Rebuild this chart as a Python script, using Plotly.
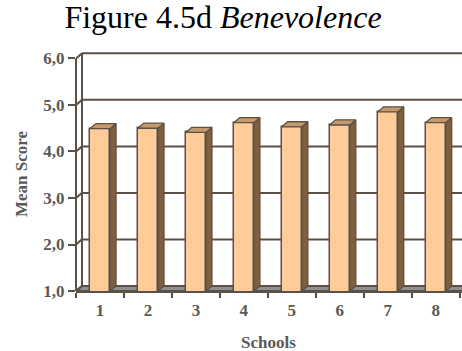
import plotly.graph_objects as go

# Mean benevolence score per school
schools = [1, 2, 3, 4, 5, 6, 7, 8]
school_labels = ["1", "2", "3", "4", "5", "6", "7", "8"]
mean_scores = [4.49, 4.50, 4.41, 4.62, 4.53, 4.57, 4.85, 4.62]

# Value-axis ticks
y_ticks = [1, 2, 3, 4, 5, 6]
y_tick_labels = ["1,0", "2,0", "3,0", "4,0", "5,0", "6,0"]

# 3-D look: depth offset of the back plane (data units) and bar width
DX, DY = 0.125, 0.11
BAR_W = 0.42
X_MIN, X_MAX = 0.5, 8.55
Y_MIN, Y_MAX = 1.0, 6.161

LINE = "#5a5046"
FRONT = "#ffcc99"
SIDE = "#7f5f3f"
TOP = "#c49a6c"
FLOOR = "#8f8f8f"
TEXT = "#595959"
SERIF = "Liberation Serif, Times New Roman, serif"

fig = go.Figure()

# Front faces of the columns (clipped by the axis range at the floor)
fig.add_trace(go.Bar(
    x=schools, y=mean_scores, width=BAR_W,
    marker=dict(color=FRONT, line=dict(color=LINE, width=1.5)),
    hoverinfo="skip", showlegend=False,
))

# Side and top faces built from the same values
side_x, side_y, top_x, top_y = [], [], [], []
for xc, v in zip(schools, mean_scores):
    xl, xr = xc - BAR_W / 2, xc + BAR_W / 2
    side_x += [xr, xr + DX, xr + DX, xr, xr, None]
    side_y += [Y_MIN, Y_MIN + DY, v + DY, v, Y_MIN, None]
    top_x += [xl, xl + DX, xr + DX, xr, xl, None]
    top_y += [v, v + DY, v + DY, v, v, None]

fig.add_trace(go.Scatter(
    x=side_x, y=side_y, mode="lines", fill="toself", fillcolor=SIDE,
    line=dict(color=LINE, width=1.3), hoverinfo="skip", showlegend=False,
))
fig.add_trace(go.Scatter(
    x=top_x, y=top_y, mode="lines", fill="toself", fillcolor=TOP,
    line=dict(color=LINE, width=1.3), hoverinfo="skip", showlegend=False,
))

shapes = []
# Floor of the box
shapes.append(dict(
    type="path", xref="x", yref="y", layer="below",
    path=f"M {X_MIN},{Y_MIN} L {X_MIN + DX},{Y_MIN + DY} L {X_MAX + 1},{Y_MIN + DY} L {X_MAX + 1},{Y_MIN} Z",
    fillcolor=FLOOR, line=dict(color=LINE, width=2),
))
# Back-wall gridlines and side-wall diagonals at each tick value
for v in y_ticks:
    if v > Y_MIN:
        shapes.append(dict(
            type="line", xref="x", yref="y", layer="below",
            x0=X_MIN + DX, x1=X_MAX + 1, y0=v + DY, y1=v + DY,
            line=dict(color=LINE, width=2),
        ))
    shapes.append(dict(
        type="line", xref="x", yref="y", layer="below",
        x0=X_MIN, x1=X_MIN + DX, y0=v, y1=v + DY,
        line=dict(color=LINE, width=2),
    ))
# Back-wall left edge
shapes.append(dict(
    type="line", xref="x", yref="y", layer="below",
    x0=X_MIN + DX, x1=X_MIN + DX, y0=Y_MIN + DY, y1=y_ticks[-1] + DY,
    line=dict(color=LINE, width=2),
))
# Front value axis, from the floor up to the last tick
shapes.append(dict(
    type="line", xref="paper", yref="y", layer="above",
    x0=0, x1=0, y0=y_ticks[0], y1=y_ticks[-1],
    line=dict(color=LINE, width=2),
))

fig.update_layout(
    width=462, height=351,
    margin=dict(l=76, r=0, t=51, b=60),
    paper_bgcolor="white", plot_bgcolor="white",
    shapes=shapes,
    bargap=0,
    title=dict(
        text="Figure 4.5d <i>Benevolence</i>",
        font=dict(family=SERIF, size=32, color="black"),
        x=223 / 462, xref="container", xanchor="center",
        y=1 - 6 / 351, yref="container", yanchor="top",
    ),
    xaxis=dict(
        range=[X_MIN, X_MAX],
        tickmode="array", tickvals=schools, ticktext=school_labels,
        ticks="", ticklabelstandoff=3,
        tickfont=dict(family=SERIF, size=17, color=TEXT, weight="bold"),
        minor=dict(tickmode="array", tickvals=[s - 0.5 for s in schools] + [schools[-1] + 0.5],
                   ticks="outside", ticklen=5, tickwidth=2, tickcolor=LINE, showgrid=False),
        showgrid=False, zeroline=False,
        showline=True, linecolor=LINE, linewidth=2,
        fixedrange=True,
    ),
    yaxis=dict(
        range=[Y_MIN, Y_MAX],
        tickmode="array", tickvals=y_ticks, ticktext=y_tick_labels,
        ticks="outside", ticklen=7, tickwidth=2, tickcolor=LINE,
        tickfont=dict(family=SERIF, size=17, color=TEXT, weight="bold"),
        showgrid=False, zeroline=False, showline=False,
        fixedrange=True,
    ),
    annotations=[
        dict(text="<b>Schools</b>", xref="paper", yref="paper",
             x=(268 - 76) / 386, y=(291 - 342) / 240, showarrow=False,
             xanchor="center", yanchor="middle",
             font=dict(family=SERIF, size=17, color=TEXT)),
        dict(text="<b>Mean Score</b>", xref="paper", yref="paper",
             x=(21 - 76) / 386, y=(291 - 174) / 240, showarrow=False,
             textangle=-90, xanchor="center", yanchor="middle",
             font=dict(family=SERIF, size=17, color=TEXT)),
    ],
)

fig.write_html("out.html")
